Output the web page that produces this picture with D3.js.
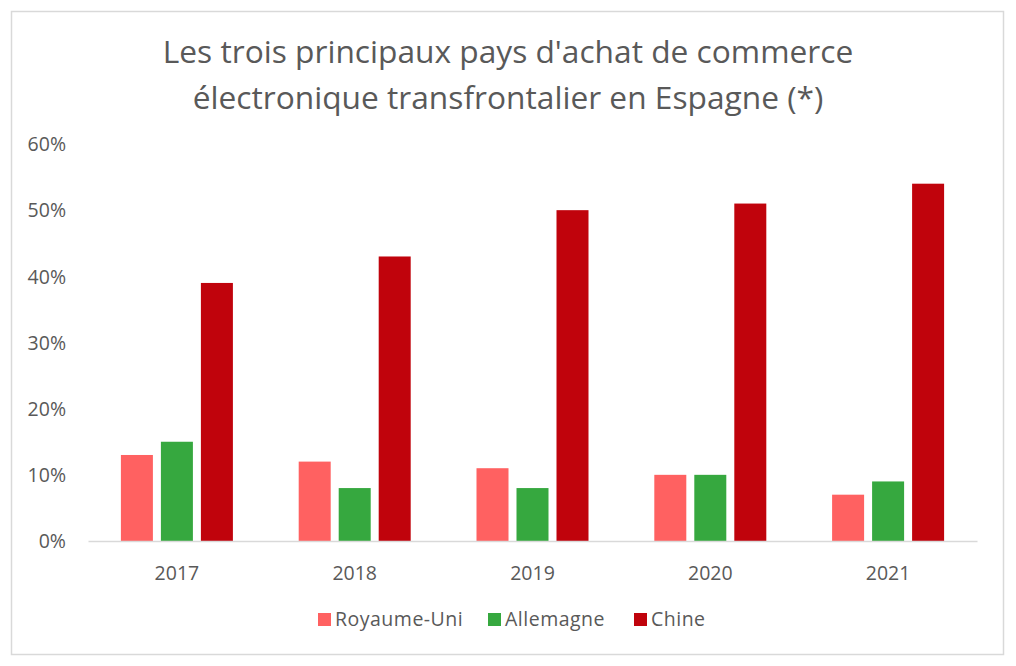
<!DOCTYPE html>
<html><head><meta charset="utf-8">
<script src="https://cdn.jsdelivr.net/npm/d3@7"></script>
<style>body{margin:0;background:#fff}svg{display:block}text{font-family:"Open Sans",sans-serif;fill:#595959}</style>
</head><body><svg id="c" width="1016" height="666"></svg>
<script>
const years = ["2017","2018","2019","2020","2021"];
const seriesNames = ["Royaume-Uni","Allemagne","Chine"];
const royaumeUni = [13,12,11,10,7];
const allemagne = [15,8,8,10,9];
const chine = [39,43,50,51,54];
const yTicks = [0,10,20,30,40,50,60];
const colors = ["#FF6161","#36A83F","#C0030C"];
const titleLines = ["Les trois principaux pays d'achat de commerce","électronique transfrontalier en Espagne (*)"];

const values = [royaumeUni, allemagne, chine];
const svg = d3.select("#c");
svg.append("rect").attr("x",11.5).attr("y",11.5).attr("width",992).attr("height",643)
  .attr("fill","#fff").attr("stroke","#D9D9D9").attr("stroke-width",1.5);

const x = d3.scaleBand().domain(years).range([88,977]);
const y = d3.scaleLinear().domain([0,60]).range([541,144]);
const bw = 32, gap = 8;
const xs = d3.scaleBand().domain(seriesNames).range([0, 3*bw+2*gap]).paddingInner(gap/(bw+gap));

titleLines.forEach((t,i)=>svg.append("text").attr("x",508).attr("y",63+i*46)
  .attr("text-anchor","middle").style("font-size","31.7px").text(t));

const yAxis = d3.axisLeft(y).tickValues(yTicks).tickFormat(d=>d+"%").tickSize(0).tickPadding(0);
const ga = svg.append("g").attr("transform","translate(66,0)").call(yAxis);
ga.select(".domain").remove();
ga.selectAll("text").style("font-size","19.5px").attr("fill","#595959").attr("dy","0.35em");

const groups = svg.append("g").selectAll("g").data(years).join("g")
  .attr("transform",d=>`translate(${x(d)+x.bandwidth()/2-(3*bw+2*gap)/2},0)`);
seriesNames.forEach((s,si)=>{
  groups.append("rect").attr("x",xs(s)).attr("width",xs.bandwidth())
    .attr("y",(d,i)=>y(values[si][i])).attr("height",(d,i)=>y(0)-y(values[si][i]))
    .attr("fill",colors[si]);
});

const xAxis = d3.axisBottom(x).tickSize(0).tickPadding(0);
const gx = svg.append("g").attr("transform","translate(0,541)").call(xAxis);
gx.select(".domain").attr("stroke","#D9D9D9").attr("stroke-width",1.5);
gx.selectAll("text").style("font-size","19.5px").attr("fill","#595959").attr("dy","0").attr("y",39);

const legX = [318,488,634];
const lg = svg.append("g").selectAll("g").data(seriesNames).join("g")
  .attr("transform",(d,i)=>`translate(${legX[i]},619)`);
lg.append("rect").attr("x",0).attr("y",-6).attr("width",13).attr("height",13).attr("fill",(d,i)=>colors[i]);
lg.append("text").attr("x",17).attr("dy","0.35em").style("font-size","19.5px").style("letter-spacing","0.5px").text(d=>d);
</script></body></html>
